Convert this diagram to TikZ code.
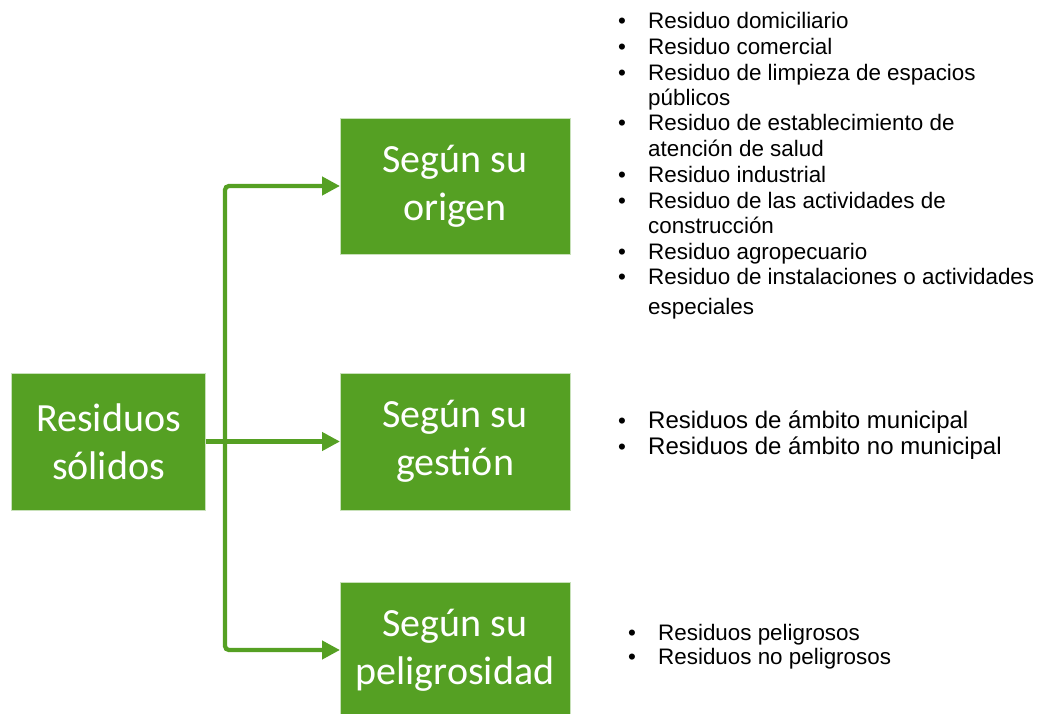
\documentclass[tikz,border=0pt]{standalone}
\usepackage{fontspec}
\setmainfont{Liberation Sans}
\newfontfamily\boxfont{Carlito}
\usetikzlibrary{arrows.meta}
\definecolor{sgreen}{RGB}{85,160,35}
\definecolor{sedge}{RGB}{200,225,185}
\begin{document}
\begin{tikzpicture}[x=1pt,y=-1pt,
  cat/.style={fill=sgreen, draw=sedge, line width=0.8pt, text=white,
    font=\boxfont\fontsize{40}{48}\selectfont, align=center, inner sep=0pt, outer sep=0pt},
  conn/.style={draw=sgreen, line width=4.3pt, -{Triangle[length=18pt,width=18pt]}, rounded corners=4pt},
  item/.style={anchor=base west, inner sep=0pt, font=\fontsize{22.4}{26}\selectfont},
  bigitem/.style={anchor=base west, inner sep=0pt, font=\fontsize{24}{28}\selectfont},
  dot/.style={anchor=base, inner sep=0pt, font=\fontsize{22.4}{26}\selectfont}]
\useasboundingbox (0,0) rectangle (1037,714);
% boxes
\node[cat, minimum width=194, minimum height=137] (A) at (108.5,441.5) {Residuos\\sólidos};
\node[cat, minimum width=230, minimum height=136] (B1) at (455,186) {Según su\\origen};
\node[cat, minimum width=230, minimum height=137] (B2) at (455,441.5) {Según su\\gestión};
\node[cat, minimum width=230, minimum height=136] (B3) at (455,650) {Según su\\peligrosidad};
% connectors
\coordinate (J) at (225,441.5);
\draw[conn] (A.east) -- (B2.west);
\draw[conn] (J) |- (B1.west);
\draw[conn] (J) |- (B3.west);
% list: origen
\foreach \y/\b/\t [count=\i] in {
  29/1/Residuo domiciliario,
  55/1/Residuo comercial,
  80.7/1/Residuo de limpieza de espacios,
  106/0/públicos,
  130.7/1/Residuo de establecimiento de,
  156.7/0/atención de salud,
  182.7/1/Residuo industrial,
  208.3/1/Residuo de las actividades de,
  233.3/0/construcción,
  259.3/1/Residuo agropecuario,
  285/1/Residuo de instalaciones o actividades,
  314.3/0/especiales}{
  \node[item] (o\i) at (648,\y) {\t};
  \ifnum\b=1 \node[dot] (ob\i) at (622,\y) {•};\fi
}
% list: gestion
\node[dot] (gb1) at (622,428) {•};
\node[bigitem] (g1) at (648,428) {Residuos de ámbito municipal};
\node[dot] (gb2) at (622,454) {•};
\node[bigitem] (g2) at (648,454) {Residuos de ámbito no municipal};
% list: peligrosidad
\node[dot] (pb1) at (632,640) {•};
\node[item] (p1) at (658,640) {Residuos peligrosos};
\node[dot] (pb2) at (632,664) {•};
\node[item] (p2) at (658,664) {Residuos no peligrosos};
\end{tikzpicture}
\end{document}
